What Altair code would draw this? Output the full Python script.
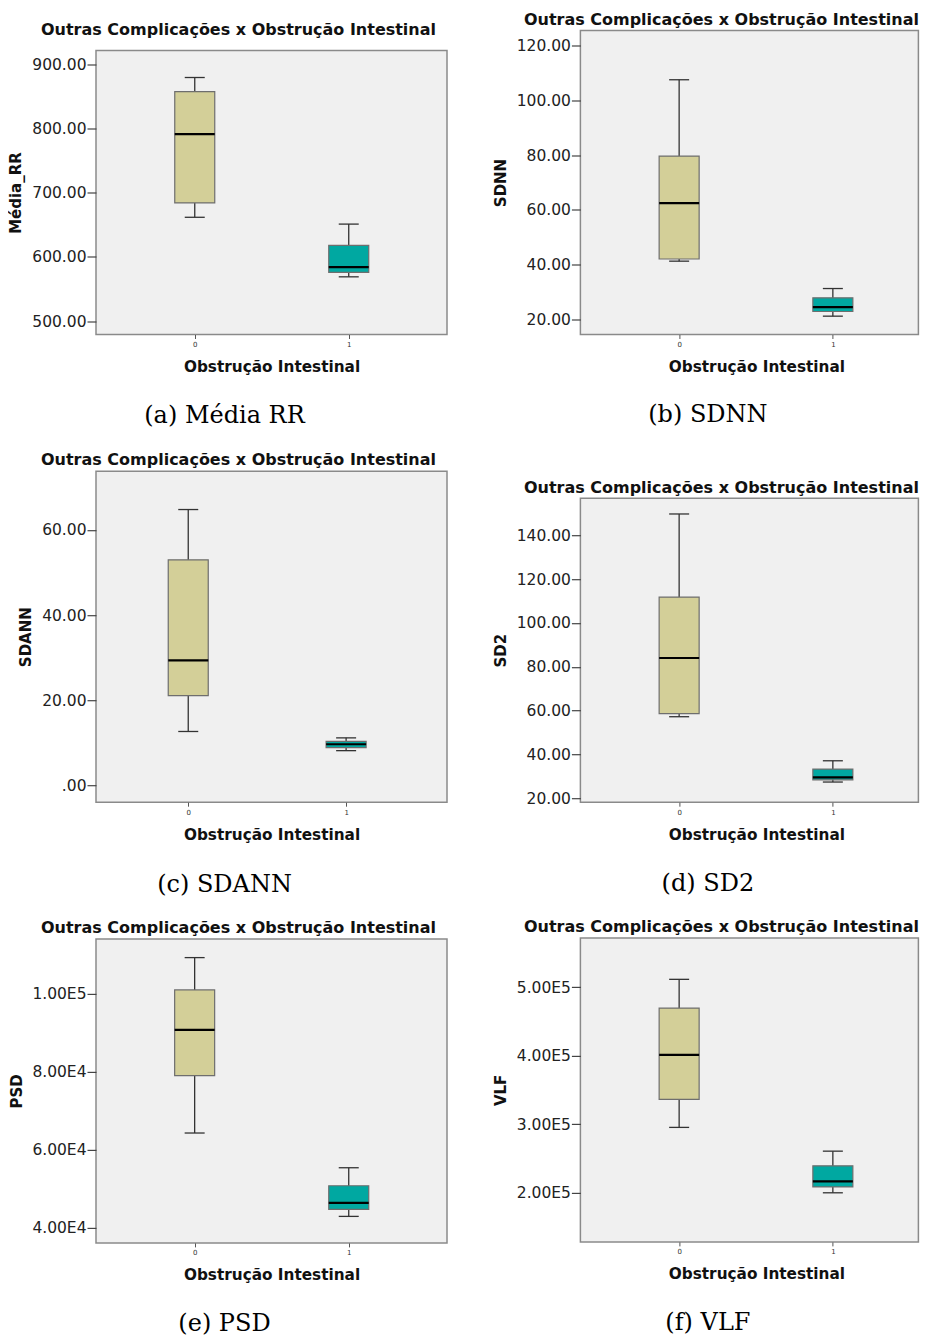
import altair as alt
import pandas as pd

groups = [0, 1]

# five-number summaries per group: lower whisker, Q1, median, Q3, upper whisker
media_rr_0 = [661.6, 684.0, 791.0, 857.0, 879.0]
media_rr_1 = [569.0, 576.0, 584.0, 618.0, 651.0]
sdnn_0 = [41.2, 42.0, 62.4, 79.6, 107.5]
sdnn_1 = [21.1, 22.8, 24.4, 27.8, 31.2]
sdann_0 = [12.7, 21.1, 29.4, 53.0, 64.8]
sdann_1 = [8.2, 8.9, 9.7, 10.4, 11.2]
sd2_0 = [57.2, 58.6, 84.0, 111.8, 149.7]
sd2_1 = [27.4, 28.4, 29.5, 33.3, 37.1]
psd_0 = [64240, 78950, 90680, 100950, 109240]
psd_1 = [42850, 44640, 46340, 50710, 55330]
vlf_0 = [295500, 336500, 401500, 469700, 511700]
vlf_1 = [200000, 208600, 216800, 239400, 260800]

media_rr_ticks = [500, 600, 700, 800, 900]
sdnn_ticks = [20, 40, 60, 80, 100, 120]
sdann_ticks = [0, 20, 40, 60]
sd2_ticks = [20, 40, 60, 80, 100, 120, 140]
psd_ticks = [40000, 60000, 80000, 100000]
vlf_ticks = [200000, 300000, 400000, 500000]

chart_title = "Outras Complicações x Obstrução Intestinal"
x_title = "Obstrução Intestinal"
y_titles = ["Média_RR", "SDNN", "SDANN", "SD2", "PSD", "VLF"]
captions = ["(a) Média RR", "(b) SDNN", "(c) SDANN", "(d) SD2", "(e) PSD", "(f) VLF"]

# ---- styles ----
TAN = "#d3cf98"
TEAL = "#00a8a1"
BG = "#f0f0f0"
FRAME = "#8a8a8a"
WHISK = "#333333"
BOX_STROKE = "#6e6e6e"
SANS = "DejaVu Sans"
SERIF = "DejaVu Serif"
DEC = "datum.value == 0 ? '.00' : format(datum.value, '.2f')"
SCI = "replace(upper(format(datum.value, '.2e')), '+', '')"

LEFT_TITLE_C = 238.5
RIGHT_TITLE_C = 722
LEFT_CAP_C = 224
RIGHT_CAP_C = 708
RIGHT_XT_C = 757
HEAD = 34  # blank first title line; sets each panel's top within its cell


def panel(s0, s1, ticks, ytitle, fmt, caption, frame_left, width, height, ydom,
          box0_px, px_per_unit, title_center, title_extra, title_offset, cap_center,
          cap_y, xt_center=None):
    df = pd.DataFrame({
        "grupo": groups,
        "low": [s0[0], s1[0]],
        "q1": [s0[1], s1[1]],
        "med": [s0[2], s1[2]],
        "q3": [s0[3], s1[3]],
        "high": [s0[4], s1[4]],
    })
    x0 = -box0_px / px_per_unit
    xscale = alt.Scale(domain=[x0, x0 + width / px_per_unit], nice=False, zero=False)
    xt = {} if xt_center is None else dict(titleX=xt_center - frame_left, titleAlign="center")
    x_axis = alt.Axis(values=groups, format="d", title=x_title, grid=False,
                      domain=False, tickSize=4, tickColor="#555555", tickWidth=1,
                      labelFont=SANS, labelFontSize=7, labelColor="#333333", labelPadding=2,
                      labelFlush=False, titleFont=SANS, titleFontSize=15.3,
                      titleFontWeight="bold", titleColor="#111111", titlePadding=12, **xt)
    y_axis = alt.Axis(values=ticks, labelExpr=fmt, title=ytitle, grid=False, domain=False,
                      tickSize=9, tickColor="#444444", tickWidth=1.2, labelFont=SANS,
                      labelFontSize=15.5, labelColor="#222222", labelPadding=1,
                      titleFont=SANS, titleFontSize=15, titleFontWeight="bold",
                      titleColor="#111111", titlePadding=7.8)
    xenc = alt.X("grupo:Q", scale=xscale, axis=x_axis)
    yscale = alt.Scale(domain=ydom, nice=False, zero=False)

    def Y(f):
        return alt.Y(f"{f}:Q", scale=yscale, axis=y_axis)

    base = alt.Chart(df).encode(x=xenc)
    whisk = base.mark_rule(color=WHISK, strokeWidth=1.3).encode(y=Y("low"), y2="high:Q")
    box = base.mark_bar(size=40, stroke=BOX_STROKE, strokeWidth=1.2, opacity=1).encode(
        y=Y("q1"), y2="q3:Q",
        fill=alt.Fill("grupo:N", scale=alt.Scale(range=[TAN, TEAL]), legend=None))
    lo = base.mark_tick(orient="horizontal", size=20, thickness=1.3, color=WHISK, opacity=1).encode(y=Y("low"))
    hi = base.mark_tick(orient="horizontal", size=20, thickness=1.3, color=WHISK, opacity=1).encode(y=Y("high"))
    med = base.mark_tick(orient="horizontal", size=40, thickness=2.2, color="#000000", opacity=1).encode(y=Y("med"))
    boxes = alt.layer(whisk, box, lo, hi, med)

    # caption of the sub-figure, carried by a bare bottom axis
    cap_axis = alt.Axis(orient="bottom", domain=False, ticks=False, labels=False, grid=False,
                        title=caption, titleFont=SERIF, titleFontSize=24,
                        titleFontWeight="normal", titleColor="#000000", titleAngle=0,
                        titleAlign="center", titleBaseline="alphabetic",
                        titleX=cap_center - frame_left, titleY=cap_y)
    cap = alt.Chart(df).mark_point(opacity=0, size=1).encode(
        x=alt.X("grupo:Q", scale=xscale, axis=cap_axis))

    return alt.layer(boxes, cap).resolve_scale(x="independent").properties(
        width=width, height=height,
        title=alt.Title(["", chart_title], orient="top", anchor="middle", frame="group",
                        dx=title_center - (frame_left + width / 2), offset=title_offset,
                        font=SANS, fontSize=16, fontWeight="bold", color="#111111",
                        lineHeight=HEAD + title_extra),
        view=alt.ViewBackground(fill=BG, stroke=FRAME, strokeWidth=1.5),
    )


spacer_df = pd.DataFrame({"s": [0]})


def spacer():
    return alt.Chart(spacer_df).mark_point(opacity=0, size=1).properties(width=1, height=1)


LW, RW = 351, 338
pA = panel(media_rr_0, media_rr_1, media_rr_ticks, y_titles[0], DEC, captions[0],
           96, LW, 284, [479.3, 921.0], 96.5, 158.5, LEFT_TITLE_C, 10, 12.6, LEFT_CAP_C, 88)
pB = panel(sdnn_0, sdnn_1, sdnn_ticks, y_titles[1], DEC, captions[1],
           581, RW, 304, [14.4, 125.5], 96.6, 158.4, RIGHT_TITLE_C, 0, 2.6, RIGHT_CAP_C, 87.5,
           RIGHT_XT_C)
pC = panel(sdann_0, sdann_1, sdann_ticks, y_titles[2], DEC, captions[2],
           96, LW, 331, [-3.9, 73.8], 89.8, 162.5, LEFT_TITLE_C, -18.7, 3.6, LEFT_CAP_C, 89)
pD = panel(sd2_0, sd2_1, sd2_ticks, y_titles[3], DEC, captions[3],
           581, RW, 304, [18.2, 156.9], 96.6, 158.4, RIGHT_TITLE_C, 29.4, 2.6, RIGHT_CAP_C, 88.5,
           RIGHT_XT_C)
pE = panel(psd_0, psd_1, psd_ticks, y_titles[4], SCI, captions[4],
           96, LW, 304, [36050, 114040], 96.4, 158.6, LEFT_TITLE_C, 1.4, 2.6, LEFT_CAP_C, 87.5)
pF = panel(vlf_0, vlf_1, vlf_ticks, y_titles[5], SCI, captions[5],
           581, RW, 304, [128300, 572200], 96.6, 158.4, RIGHT_TITLE_C, -27, 2.6, RIGHT_CAP_C, 88,
           RIGHT_XT_C)

chart = alt.concat(spacer(), spacer(), pA, pB, pC, pD, pE, pF, columns=2,
                   spacing={"row": -13.3, "column": 44.4}, align="none").properties(
    padding={"left": 0, "top": -31.2, "right": 0, "bottom": 0}
).configure_view(stroke=None).configure(background="white", font=SANS)

chart.save("out.html", embed_options={"renderer": "svg", "actions": False})
